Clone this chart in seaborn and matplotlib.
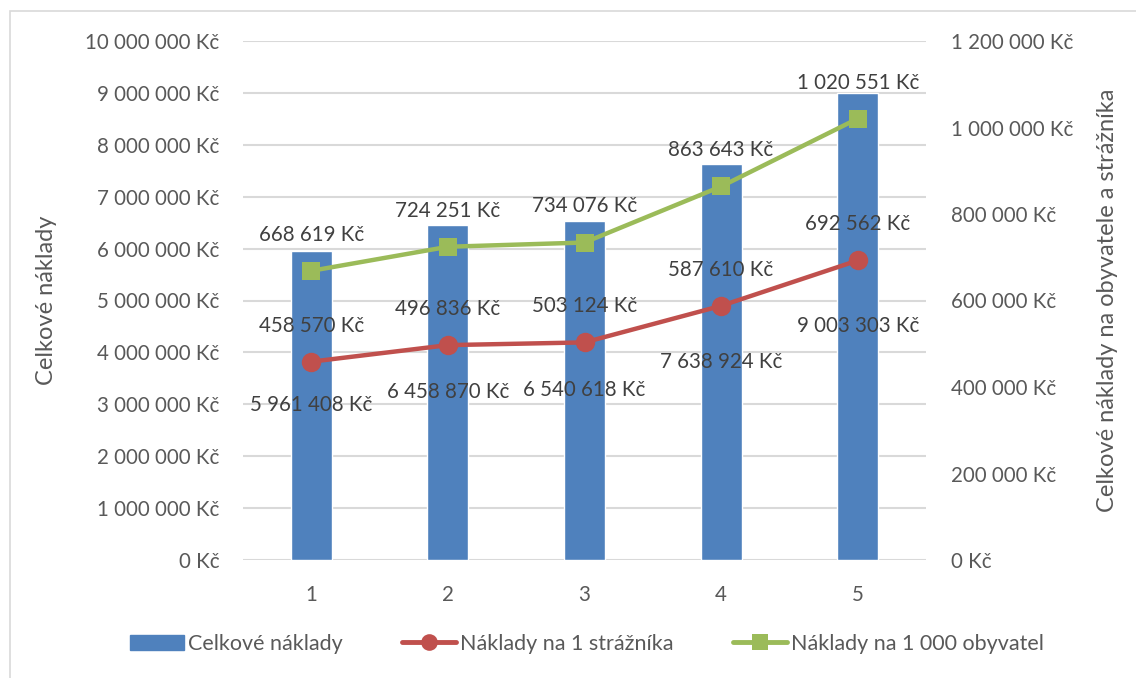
import matplotlib
matplotlib.use("Agg")
import matplotlib.pyplot as plt
import seaborn as sns
import pandas as pd
import numpy as np
from matplotlib.patches import Rectangle
from matplotlib.lines import Line2D
from matplotlib.patches import Patch

categories = ["1", "2", "3", "4", "5"]
celkove = [5961408, 6458870, 6540618, 7638924, 9003303]
straznik = [458570, 496836, 503124, 587610, 692562]
obyvatel = [668619, 724251, 734076, 863643, 1020551]
left_ticks = list(range(0, 10000001, 1000000))
right_ticks = list(range(0, 1200001, 200000))

BLUE = "#4F81BD"
RED = "#C0504D"
GREEN = "#9BBB59"
TICK = "#595959"
LBL = "#404040"
FS = 14.8

def fmt(v):
    return f"{v:,}".replace(",", " ") + " Kč"

sns.set_theme(style="white")
plt.rcParams["font.family"] = ["Lato", "DejaVu Sans"]

fig = plt.figure(figsize=(11.36, 6.78), dpi=100)
W, H = 1136, 678
ax = fig.add_axes([243 / W, 1 - 560 / H, (926 - 243) / W, (560 - 41) / H])

df = pd.DataFrame({"cat": categories, "celkove": celkove,
                   "straznik": straznik, "obyvatel": obyvatel})

sns.barplot(data=df, x="cat", y="celkove", color=BLUE, width=0.30,
            saturation=1, ax=ax, zorder=2)
ax.set_ylim(0, 10000000)
ax.set_xlim(-0.5, 4.5)
ax.set_yticks(left_ticks)
ax.set_yticklabels([fmt(t) for t in left_ticks])
ax.yaxis.grid(True, color="#D9D9D9", linewidth=1.5, zorder=0)
ax.set_axisbelow(True)
for s in ax.spines.values():
    s.set_visible(False)
ax.tick_params(axis="y", length=0, labelsize=FS, colors=TICK, pad=17)
ax.tick_params(axis="x", length=0, labelsize=FS, colors=TICK, pad=18)
ax.set_xlabel("")
ax.set_ylabel("Celkové náklady", fontsize=17, color=TICK, labelpad=20)

for i, v in enumerate(celkove):
    ax.text(i, v / 2, fmt(v), ha="center", va="center", fontsize=FS, color=LBL, zorder=5)

ax2 = ax.twinx()
x = np.arange(len(categories))
sns.lineplot(x=x, y=straznik, ax=ax2, color=RED, linewidth=3.2, marker="o",
             markersize=14, markeredgewidth=0, zorder=3)
sns.lineplot(x=x, y=obyvatel, ax=ax2, color=GREEN, linewidth=3.2, marker="s",
             markersize=13, markeredgewidth=0, zorder=3)
ax2.set_ylim(0, 1200000)
ax2.set_xlim(-0.5, 4.5)
ax2.set_yticks(right_ticks)
ax2.set_yticklabels([fmt(t) for t in right_ticks])
for s in ax2.spines.values():
    s.set_visible(False)
ax2.tick_params(axis="y", length=0, labelsize=FS, colors=TICK, pad=18)
ax2.set_ylabel("Celkové náklady na obyvatele a strážníka", fontsize=17,
               color=TICK, labelpad=17)
ax2.grid(False)

for i, v in enumerate(straznik):
    ax2.annotate(fmt(v), (i, v), xytext=(0, 26), textcoords="offset points",
                 ha="center", va="center", fontsize=FS, color=LBL)
for i, v in enumerate(obyvatel):
    ax2.annotate(fmt(v), (i, v), xytext=(0, 26), textcoords="offset points",
                 ha="center", va="center", fontsize=FS, color=LBL)

handles = [Patch(facecolor=BLUE, edgecolor=BLUE),
           Line2D([0], [0], color=RED, lw=3.5, marker="o", markersize=12, markeredgewidth=0),
           Line2D([0], [0], color=GREEN, lw=3.5, marker="s", markersize=11, markeredgewidth=0)]
labels = ["Celkové náklady", "Náklady na 1 strážníka", "Náklady na 1 000 obyvatel"]
fig.legend(handles, labels, loc="center", bbox_to_anchor=(587 / W, 1 - 644 / H),
           ncol=3, frameon=False, fontsize=15.5, handlelength=2.5,
           handletextpad=0.2, columnspacing=2.75, labelcolor=TICK)

fig.patches.append(Rectangle((10 / W, -0.1), 1.2, 1 - 11 / H + 0.1,
                             transform=fig.transFigure, fill=False,
                             edgecolor="#D9D9D9", linewidth=1.2))

fig.savefig("out.png", dpi=100)
